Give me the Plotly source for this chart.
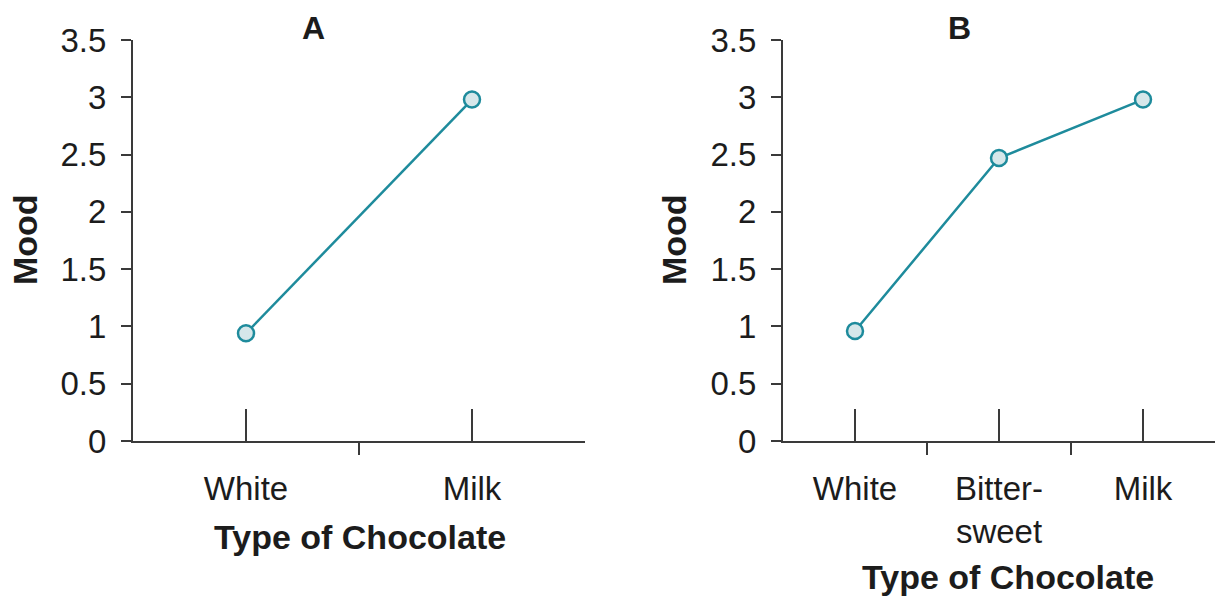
import plotly.graph_objects as go

W, H = 1215, 599

# Panel A: two chocolate types
types_a = ["White", "Milk"]
mood_a = [0.94, 2.98]

# Panel B: three chocolate types
types_b = ["White", "Bitter-<br>sweet", "Milk"]
mood_b = [0.96, 2.47, 2.98]

y_ticks = [0, 0.5, 1, 1.5, 2, 2.5, 3, 3.5]
y_labels = ["0", "0.5", "1", "1.5", "2", "2.5", "3", "3.5"]

TEAL = "#1e8b9c"
FILL = "#d6e7ea"
INK = "#1c1c1c"
AXIS = "#3a3a3a"
FONT = "Liberation Sans, Arial, Helvetica, sans-serif"

# plot-area edges in pixels
Y_TOP, Y_BOT = 40, 441
A_LEFT, A_RIGHT = 133, 585
B_LEFT, B_RIGHT = 783, 1215


def fx(p):
    return p / W


def fy(p):
    return 1 - p / H


fig = go.Figure()

for cats, vals, xa, ya in [(types_a, mood_a, "x", "y"), (types_b, mood_b, "x2", "y2")]:
    pos = [i + 0.5 for i in range(len(cats))]
    fig.add_trace(go.Scatter(
        x=pos, y=vals, xaxis=xa, yaxis=ya, mode="lines+markers",
        line=dict(color=TEAL, width=2.5),
        marker=dict(size=16, color=FILL, line=dict(color=TEAL, width=2.5)),
        showlegend=False, hoverinfo="skip", cliponaxis=False,
    ))


def make_xaxis(cats, left, right, anchor):
    return dict(
        domain=[fx(left), fx(right)], anchor=anchor,
        range=[0, len(cats)],
        tickmode="array", tickvals=[i + 0.5 for i in range(len(cats))], ticktext=cats,
        ticks="inside", ticklen=32, tickwidth=2, tickcolor=AXIS,
        minor=dict(tickmode="linear", tick0=0, dtick=1, ticks="outside",
                   ticklen=12, tickwidth=2, tickcolor=AXIS, showgrid=False),
        showline=True, linecolor=AXIS, linewidth=2,
        showgrid=False, zeroline=False,
        tickfont=dict(family=FONT, size=33, color=INK),
        ticklabelstandoff=17,
        automargin=False, fixedrange=True,
    )


def make_yaxis(anchor):
    return dict(
        domain=[fy(Y_BOT), fy(Y_TOP)], anchor=anchor,
        range=[0, 3.5],
        tickmode="array", tickvals=y_ticks, ticktext=y_labels,
        ticks="outside", ticklen=10, tickwidth=2, tickcolor=AXIS,
        showline=True, linecolor=AXIS, linewidth=2,
        showgrid=False, zeroline=False,
        tickfont=dict(family=FONT, size=33, color=INK),
        ticklabelstandoff=8,
        automargin=False, fixedrange=True,
    )


def label(text, x, y, size, angle=0):
    return dict(
        text=text, x=fx(x), y=fy(y), xref="paper", yref="paper",
        xanchor="center", yanchor="middle", showarrow=False, textangle=angle,
        font=dict(family=FONT, size=size, color=INK, weight="bold"),
    )


fig.update_layout(
    width=W, height=H,
    margin=dict(l=0, r=0, t=0, b=0),
    paper_bgcolor="white", plot_bgcolor="white",
    xaxis=make_xaxis(types_a, A_LEFT, A_RIGHT, "y"),
    yaxis=make_yaxis("x"),
    xaxis2=make_xaxis(types_b, B_LEFT, B_RIGHT, "y2"),
    yaxis2=make_yaxis("x2"),
    annotations=[
        label("A", 313, 28, 32),
        label("B", 959, 28, 32),
        label("Mood", 25, 240, 34, -90),
        label("Mood", 674, 240, 34, -90),
        label("Type of Chocolate", 360, 537, 34),
        label("Type of Chocolate", 1008, 577, 34),
    ],
)

fig.write_html("out.html")
